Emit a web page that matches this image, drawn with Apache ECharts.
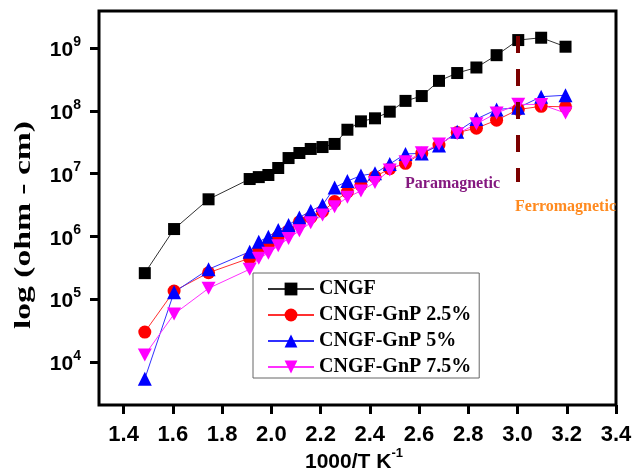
<!DOCTYPE html>
<html><head><meta charset="utf-8">
<script src="https://cdn.jsdelivr.net/npm/echarts@6/dist/echarts.min.js"></script>
<style>html,body{margin:0;padding:0;background:#fff}#c{width:635px;height:475px}</style>
</head><body><div id="c"></div>
<script>
// ---------------- data ----------------
const xValues = [1.486,1.605,1.745,1.912,1.949,1.988,2.028,2.070,2.114,2.160,2.208,2.257,2.309,2.364,2.421,2.481,2.545,2.611,2.681,2.755,2.833,2.915,3.003,3.096,3.195];
const cngf  = [2.6e5,1.31e6,3.9e6,8.2e6,8.8e6,9.5e6,1.23e7,1.77e7,2.13e7,2.47e7,2.65e7,2.97e7,5.0e7,6.8e7,7.6e7,9.7e7,1.44e8,1.72e8,3.0e8,4.0e8,4.9e8,7.7e8,1.34e9,1.46e9,1.05e9];
const gnp25 = [3.0e4,1.35e5,2.64e5,4.5e5,6.1e5,7.3e5,9.9e5,1.23e6,1.7e6,2.0e6,2.5e6,3.6e6,5.1e6,6.6e6,8.9e6,1.2e7,1.46e7,2.1e7,2.85e7,4.5e7,5.3e7,7.1e7,1.05e8,1.18e8,1.16e8];
const gnp5  = [5.4e3,1.29e5,3.0e5,5.7e5,8.2e5,9.9e5,1.26e6,1.52e6,2.0e6,2.55e6,3.16e6,6.0e6,7.6e6,9.3e6,1.01e7,1.42e7,2.06e7,2.1e7,2.8e7,4.66e7,7.4e7,1.05e8,1.12e8,1.68e8,1.77e8];
const gnp75 = [1.29e4,5.8e4,1.49e5,3.0e5,4.5e5,5.4e5,7.1e5,9.3e5,1.23e6,1.65e6,2.19e6,2.97e6,4.2e6,5.3e6,7.2e6,1.14e7,1.55e7,2.15e7,2.96e7,4.3e7,6.2e7,9.2e7,1.27e8,1.26e8,9.2e7];
const seriesNames = ['CNGF','CNGF-GnP 2.5%','CNGF-GnP 5%','CNGF-GnP 7.5%'];
const xTickMin = 1.4, xTickMax = 3.4, xTickStep = 0.2, xAxisMin = 1.3;
const yTickMin = 1e4, yTickMax = 1e9;
const yAxisMinExp = 3.315, yAxisMaxExp = 9.59;
const transitionLine = [[3.0, 1.556e9], [3.0, 7.36e6]];
const xTitle = ['1000/T K', '-1'];
const yTitle = 'log (ohm - cm)';
const notes = ['Paramagnetic', 'Ferromagnetic'];

// ---------------- layout ----------------
const W = 635, H = 475, L = 99, R = 616, T = 11, B = 405;
const sans = '"Liberation Sans", Arial, sans-serif';
const serif = '"Liberation Serif", "Times New Roman", serif';
const yspan = yAxisMaxExp - yAxisMinExp;
const g2Top = T + (yAxisMaxExp - Math.log10(yTickMax)) / yspan * (B - T);
const g2Bot = B - (Math.log10(yTickMin) - yAxisMinExp) / yspan * (B - T);
const g2Left = L + (xTickMin - xAxisMin) / (xTickMax - xAxisMin) * (R - L);

const chart = echarts.init(document.getElementById('c'), null, {renderer: 'canvas'});
const pairs = arr => xValues.map((x, i) => [x, arr[i]]);
const invTri = 'path://M0,0 L10,0 L5,9 Z';

chart.setOption({
  animation: false,
  backgroundColor: '#fff',
  grid: [
    {left: L, right: W - R, top: T, bottom: H - B, show: true, borderColor: '#000', borderWidth: 3, backgroundColor: 'transparent'},
    {left: g2Left, right: W - R, top: g2Top, bottom: H - g2Bot, show: false}
  ],
  xAxis: [
    {type: 'value', gridIndex: 0, min: xAxisMin, max: xTickMax, show: false},
    {type: 'value', gridIndex: 1, min: xTickMin, max: xTickMax, interval: xTickStep, position: 'bottom',
     offset: B - g2Bot,
     axisLine: {show: false}, splitLine: {show: false},
     axisTick: {show: true, length: 9, lineStyle: {color: '#000', width: 3}},
     axisLabel: {margin: 19, color: '#000', fontFamily: sans, fontWeight: 'bold', fontSize: 22,
                 formatter: v => v.toFixed(1)}}
  ],
  yAxis: [
    {type: 'log', logBase: 10, gridIndex: 0, min: Math.pow(10, yAxisMinExp), max: Math.pow(10, yAxisMaxExp), show: false},
    {type: 'log', logBase: 10, gridIndex: 1, min: yTickMin, max: yTickMax, position: 'left',
     offset: g2Left - L,
     axisLine: {show: false}, splitLine: {show: false}, minorTick: {show: false},
     axisTick: {show: true, length: 9, lineStyle: {color: '#000', width: 3}},
     axisLabel: {margin: 18, color: '#000',
       formatter: v => '{b|10}{s|' + Math.round(Math.log10(v)) + '}',
       rich: {
         b: {fontFamily: sans, fontWeight: 'bold', fontSize: 21, color: '#000', lineHeight: 26, verticalAlign: 'bottom'},
         s: {fontFamily: sans, fontWeight: 'bold', fontSize: 14, color: '#000', lineHeight: 14, verticalAlign: 'top'}
       }}}
  ],
  legend: {
    orient: 'vertical', left: 253, top: 273,
    itemWidth: 46, itemHeight: 16, itemGap: 6,
    padding: [6, 8, 1, 14],
    borderColor: '#666', borderWidth: 1,
    textStyle: {fontFamily: serif, fontWeight: 'bold', fontSize: 20, color: '#000'},
    data: seriesNames
  },
  graphic: [
    {type: 'text', left: 357 - 52, top: 447, style: {
      text: '{a|' + xTitle[0] + '}{s|' + xTitle[1] + '}',
      rich: {a: {fontFamily: sans, fontWeight: 'bold', fontSize: 21, color: '#000', lineHeight: 26, verticalAlign: 'bottom'},
             s: {fontFamily: sans, fontWeight: 'bold', fontSize: 13, color: '#000', lineHeight: 13, verticalAlign: 'top'}}}},
    {type: 'text', x: 24, y: 225, rotation: Math.PI / 2, scaleX: 1.4, scaleY: 1, style: {
      text: yTitle, fontFamily: serif, fontWeight: 'bold', fontSize: 24, fill: '#000', align: 'center', verticalAlign: 'middle'}},
    {type: 'text', left: 405, top: 176, style: {text: notes[0], fontFamily: serif, fontWeight: 'bold', fontSize: 16, fill: '#84187F'}},
    {type: 'text', left: 515, top: 199, style: {text: notes[1], fontFamily: serif, fontWeight: 'bold', fontSize: 16, fill: '#FF8A1F'}}
  ],
  series: [
    {name: seriesNames[0], type: 'line', xAxisIndex: 0, yAxisIndex: 0, data: pairs(cngf),
     symbol: 'rect', symbolSize: 12, itemStyle: {color: '#000'}, lineStyle: {color: '#333', width: 1},
     markLine: {silent: true, symbol: 'none', label: {show: false},
       lineStyle: {color: '#7B0000', width: 4, type: [17, 16]},
       data: [[{coord: transitionLine[0]}, {coord: transitionLine[1]}]]}},
    {name: seriesNames[1], type: 'line', xAxisIndex: 0, yAxisIndex: 0, data: pairs(gnp25),
     symbol: 'circle', symbolSize: 13, itemStyle: {color: '#FF0000'}, lineStyle: {color: '#FF3030', width: 1}},
    {name: seriesNames[2], type: 'line', xAxisIndex: 0, yAxisIndex: 0, data: pairs(gnp5),
     symbol: 'triangle', symbolSize: 14, itemStyle: {color: '#0000FF'}, lineStyle: {color: '#3030FF', width: 1}},
    {name: seriesNames[3], type: 'line', xAxisIndex: 0, yAxisIndex: 0, data: pairs(gnp75),
     symbol: invTri, symbolSize: [14, 13], itemStyle: {color: '#FF00FF'}, lineStyle: {color: '#FF30FF', width: 1}}
  ]
});
</script></body></html>
